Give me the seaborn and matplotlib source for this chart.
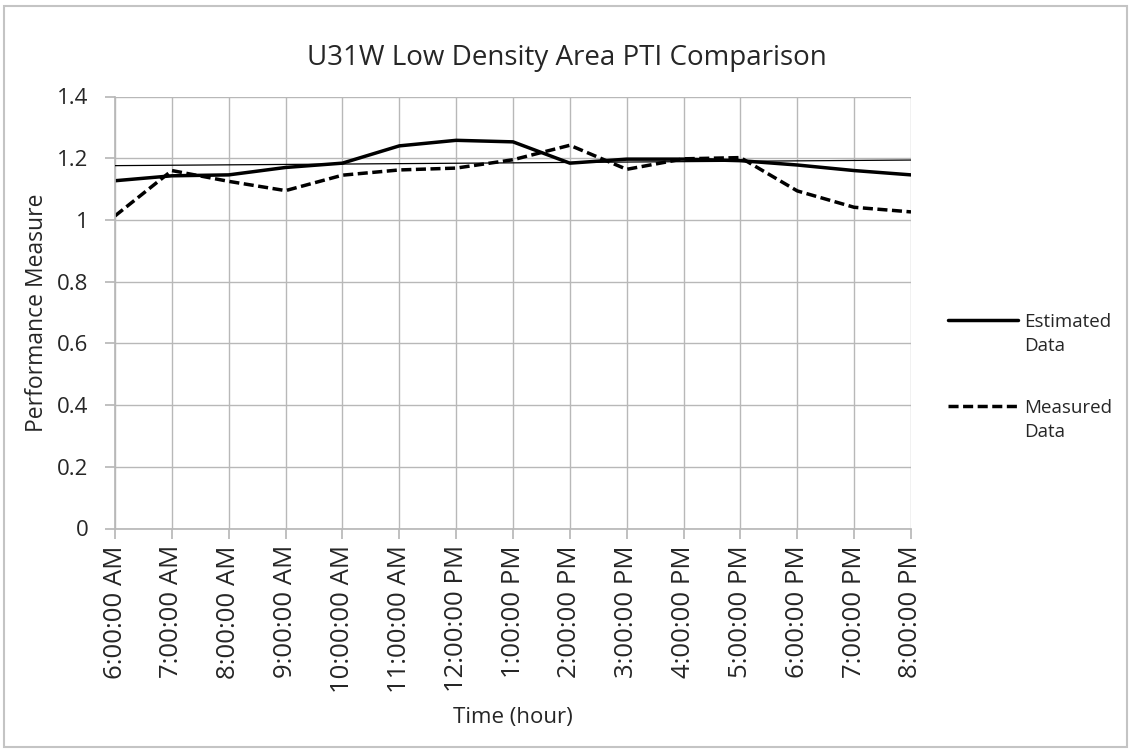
import numpy as np
import pandas as pd
import matplotlib
matplotlib.use("Agg")
import matplotlib.pyplot as plt
from matplotlib.lines import Line2D
from matplotlib.patches import Rectangle
import seaborn as sns

hours = ["6:00:00 AM", "7:00:00 AM", "8:00:00 AM", "9:00:00 AM", "10:00:00 AM",
         "11:00:00 AM", "12:00:00 PM", "1:00:00 PM", "2:00:00 PM", "3:00:00 PM",
         "4:00:00 PM", "5:00:00 PM", "6:00:00 PM", "7:00:00 PM", "8:00:00 PM"]
estimated = [1.127, 1.143, 1.146, 1.170, 1.184, 1.240, 1.258, 1.253,
             1.184, 1.197, 1.197, 1.192, 1.178, 1.160, 1.146]
measured = [1.013, 1.160, 1.125, 1.095, 1.145, 1.162, 1.168, 1.195,
            1.242, 1.164, 1.198, 1.202, 1.094, 1.041, 1.026]
y_ticks = [0, 0.2, 0.4, 0.6, 0.8, 1, 1.2, 1.4]
series_names = ["Estimated\nData", "Measured\nData"]

sns.set_theme(style="white")
plt.rcParams["font.family"] = ["Open Sans", "DejaVu Sans"]

W, H = 1131, 751
idx = np.arange(len(hours))
df = pd.DataFrame({
    "idx": np.concatenate([idx, idx]),
    "value": estimated + measured,
    "series": [series_names[0]] * len(hours) + [series_names[1]] * len(hours),
})
dash_map = {series_names[0]: "", series_names[1]: (2.9, 1.3)}

fig = plt.figure(figsize=(W / 100, H / 100), dpi=100)
fig.add_artist(Rectangle((4 / W, 4 / H), 1 - 8 / W, 1 - 10 / H,
                         transform=fig.transFigure, fill=False,
                         edgecolor="#c4c4c4", linewidth=1.5))
ax = fig.add_axes([115 / W, 1 - 528.5 / H, 796 / W, 432 / H])

sns.lineplot(data=df, x="idx", y="value", style="series", dashes=dash_map,
             color="black", linewidth=2.5, ax=ax, legend=False)

# linear trend of the estimated series
coef = np.polyfit(idx, estimated, 1)
ax.plot(idx, np.polyval(coef, idx), color="black", linewidth=0.9, zorder=3)

ax.set_xlim(0, len(hours) - 1)
ax.set_ylim(0, 1.4)
ax.set_xticks(idx)
ax.set_xticklabels(hours, rotation=90, fontsize=18.5)
ax.set_yticks(y_ticks)
ax.set_yticklabels([f"{t:g}" for t in y_ticks], fontsize=16)
ax.grid(True, color="#b8b8b8", linewidth=1)
ax.set_axisbelow(True)
for s in ["top", "right"]:
    ax.spines[s].set_visible(False)
ax.spines["left"].set_color("#b8b8b8")
ax.spines["bottom"].set_color("#b8b8b8")
ax.tick_params(axis="x", bottom=True, length=7, color="#b8b8b8", pad=5)
ax.tick_params(axis="y", left=True, length=7, color="#b8b8b8", pad=12)

ax.set_xlabel("Time (hour)", fontsize=16, labelpad=10)
ax.set_ylabel("Performance Measure", fontsize=16.5, labelpad=6)
fig.text(567 / W, 1 - 58 / H, "U31W Low Density Area PTI Comparison",
         ha="center", va="center", fontsize=20)

# legend: handle aligned with the first text line of each entry
for name, y_px in zip(series_names, [320, 406]):
    fig.add_artist(Line2D([948 / W, 1018 / W], [1 - y_px / H] * 2,
                          transform=fig.transFigure, color="black",
                          linewidth=2.5, dashes=dash_map[name] or (None, None)))
    fig.text(1024 / W, 1 - (y_px - 7) / H, name, ha="left", va="top",
             fontsize=13.5, linespacing=1.45)

fig.savefig("out.png", dpi=100)
